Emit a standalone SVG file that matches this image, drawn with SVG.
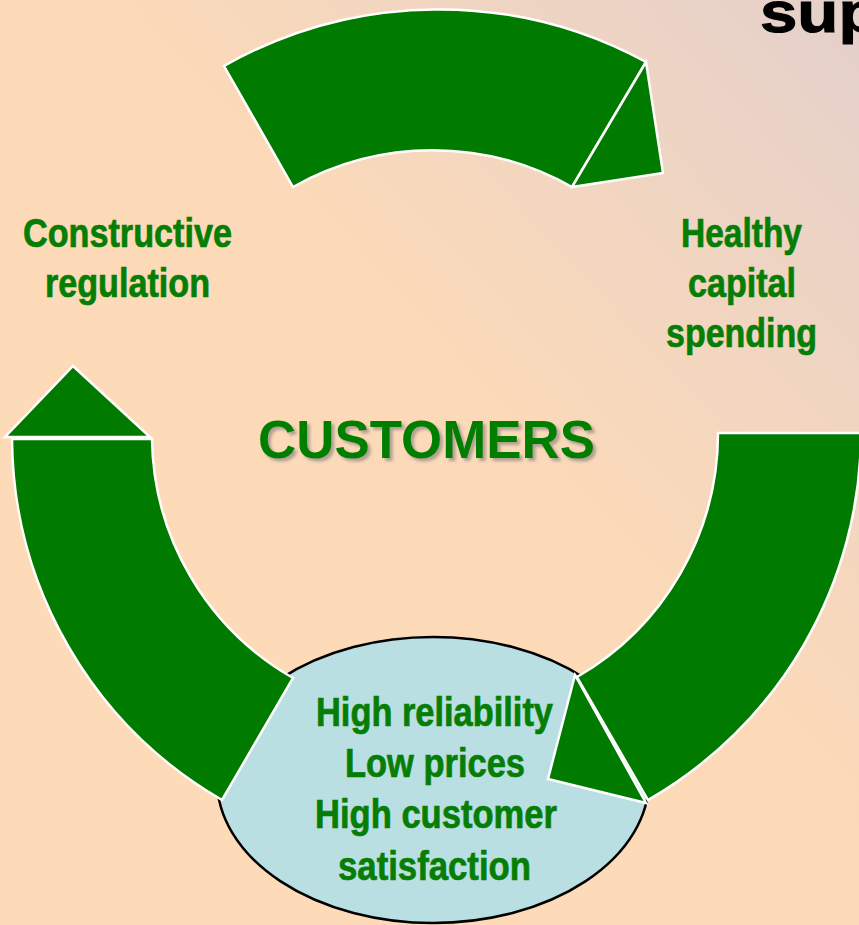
<svg xmlns="http://www.w3.org/2000/svg" width="859" height="925" viewBox="0 0 859 925">
<defs>
<linearGradient id="bg" x1="0" y1="1" x2="1" y2="0">
<stop offset="0" stop-color="#FEDBB8"/>
<stop offset="0.55" stop-color="#FCDAB8"/>
<stop offset="1" stop-color="#E4D0CB"/>
</linearGradient>
<filter id="shadow" x="-10%" y="-30%" width="120%" height="160%">
<feDropShadow dx="3" dy="3" stdDeviation="1.5" flood-color="#707070" flood-opacity="0.55"/>
</filter>
</defs>
<style>
.arrow{fill:#007B00;stroke:#FFFFFF;stroke-width:2.5;stroke-linejoin:miter}
.lbl{font-family:"Liberation Sans",Arial,sans-serif;font-weight:bold;font-size:40px;fill:#067E06;stroke:#067E06;stroke-width:0.7}
</style>
<rect x="0" y="0" width="859" height="925" fill="url(#bg)"/>
<text x="760" y="32" transform="translate(760,32) scale(1.2,1.03) translate(-760,-32)" font-family="'Liberation Sans',Arial,sans-serif" font-weight="bold" font-size="56" fill="#000000" stroke="#000000" stroke-width="1">sup</text>
<g id="outcomes">
<ellipse cx="433" cy="780" rx="216" ry="143" fill="#B9DFE3" stroke="#000000" stroke-width="2.5"/>
</g>
<g id="connectors">
<g id="arrow-top">
<path class="arrow" d="M224,66 A435,435 0 0 1 646,62 L572,187 A283,283 0 0 0 293,187 Z"/>
<path class="arrow" d="M646,62 L663,173 L572,187 Z"/>
</g>
<g id="arrow-right">
<path class="arrow" d="M718,433 L861,433 A424,424 0 0 1 648,800 L577,677 A282,282 0 0 0 718,433 Z"/>
<path class="arrow" d="M575,675 L548,779 L646,803 Z"/>
</g>
<g id="arrow-left">
<path class="arrow" d="M12,439 L152,439 A280,280 0 0 0 293,678 L222,800 A420,420 0 0 1 12,439 Z"/>
<path class="arrow" d="M5,437 L73,366 L150,437 Z"/>
</g>
</g>
<g id="regulation">
<text class="lbl" x="23" y="247" textLength="209" lengthAdjust="spacingAndGlyphs">Constructive</text>
<text class="lbl" x="45" y="297" textLength="165" lengthAdjust="spacingAndGlyphs">regulation</text>
</g>
<g id="capital">
<text class="lbl" x="681" y="247" textLength="121" lengthAdjust="spacingAndGlyphs">Healthy</text>
<text class="lbl" x="688" y="297" textLength="108" lengthAdjust="spacingAndGlyphs">capital</text>
<text class="lbl" x="666" y="347" textLength="151" lengthAdjust="spacingAndGlyphs">spending</text>
</g>
<g id="customers">
<text x="258" y="458" font-family="'Liberation Sans',Arial,sans-serif" font-weight="bold" font-size="53" fill="#067E06" textLength="337" lengthAdjust="spacingAndGlyphs" filter="url(#shadow)">CUSTOMERS</text>
</g>
<g id="outcome-text">
<text class="lbl" x="316" y="726" textLength="237" lengthAdjust="spacingAndGlyphs">High reliability</text>
<text class="lbl" x="345" y="777" textLength="180" lengthAdjust="spacingAndGlyphs">Low prices</text>
<text class="lbl" x="315" y="828" textLength="242" lengthAdjust="spacingAndGlyphs">High customer</text>
<text class="lbl" x="338" y="880" textLength="193" lengthAdjust="spacingAndGlyphs">satisfaction</text>
</g>
</svg>
